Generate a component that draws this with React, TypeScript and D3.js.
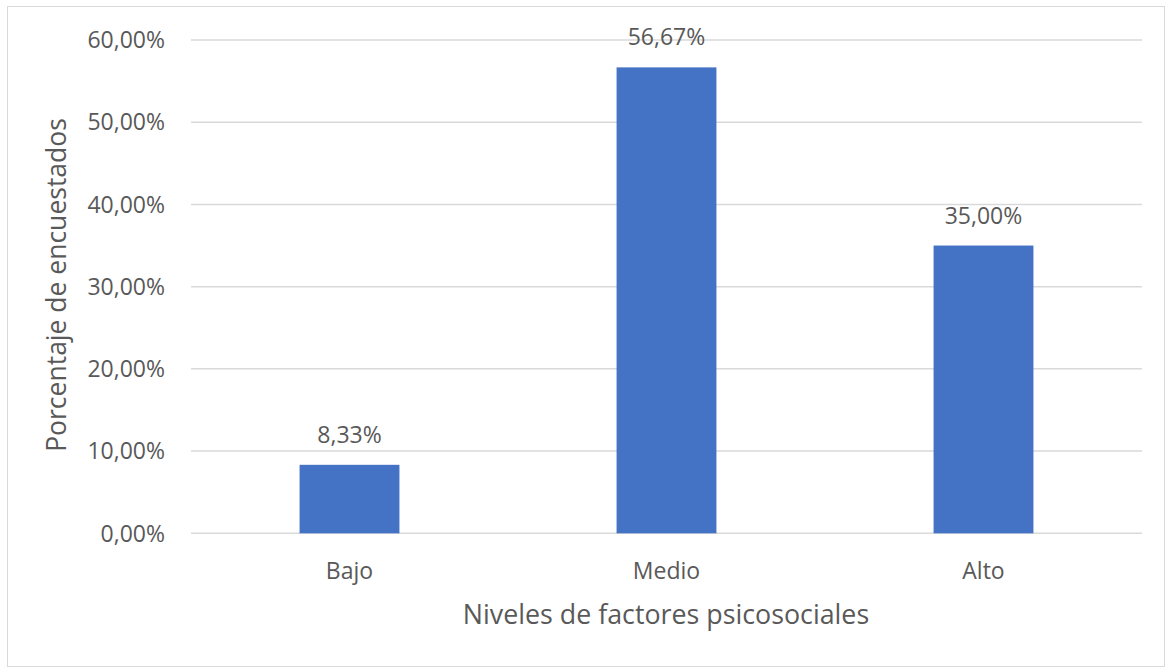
import React from "react";
import * as d3 from "d3";

const categories = ["Bajo", "Medio", "Alto"];
const values = [8.33, 56.67, 35.0];
const yTicks = [0, 10, 20, 30, 40, 50, 60];
const xTitle = "Niveles de factores psicosociales";
const yTitle = "Porcentaje de encuestados";

const W = 1171;
const H = 668;
const left = 191;
const right = 1142;
const top = 40;
const bottom = 533.3;
const font = "'Open Sans', sans-serif";
const textColor = "#595959";

const fmt = (v: number) => v.toFixed(2).replace(".", ",") + "%";

export default function App() {
  const x = d3.scaleBand<string>().domain(categories).range([left, right]).paddingInner(0.685).paddingOuter(0.3425);
  const y = d3.scaleLinear().domain([0, 60]).range([bottom, top]);
  return (
    <svg width={W} height={H} style={{ position: "absolute", left: 0, top: 0 }}>
      <rect x={0} y={0} width={W} height={H} fill="#fff" />
      <rect x={7.5} y={6.5} width={1157} height={660} fill="none" stroke="#d9d9d9" strokeWidth={1} />
      {yTicks.map((t) => (
        <g key={t}>
          <line x1={left} x2={right} y1={y(t)} y2={y(t)} stroke="#d9d9d9" strokeWidth={1.5} />
          <text x={165} y={y(t)} dy="0.36em" textAnchor="end" fontFamily={font} fontSize={23} fill={textColor}>
            {fmt(t)}
          </text>
        </g>
      ))}
      {categories.map((c, i) => (
        <g key={c}>
          <rect x={x(c)!} y={y(values[i])} width={x.bandwidth()} height={y(0) - y(values[i])} fill="#4472C4" />
          <text x={x(c)! + x.bandwidth() / 2} y={y(values[i]) - 22} textAnchor="middle" fontFamily={font} fontSize={23} fill={textColor}>
            {fmt(values[i])}
          </text>
          <text x={x(c)! + x.bandwidth() / 2} y={579} textAnchor="middle" fontFamily={font} fontSize={23} fill={textColor}>
            {c}
          </text>
        </g>
      ))}
      <text x={(left + right) / 2 - 0.5} y={624} textAnchor="middle" fontFamily={font} fontSize={26.8} fill={textColor}>
        {xTitle}
      </text>
      <text transform={`translate(66,${285}) rotate(-90)`} textAnchor="middle" fontFamily={font} fontSize={26.5} fill={textColor}>
        {yTitle}
      </text>
    </svg>
  );
}
